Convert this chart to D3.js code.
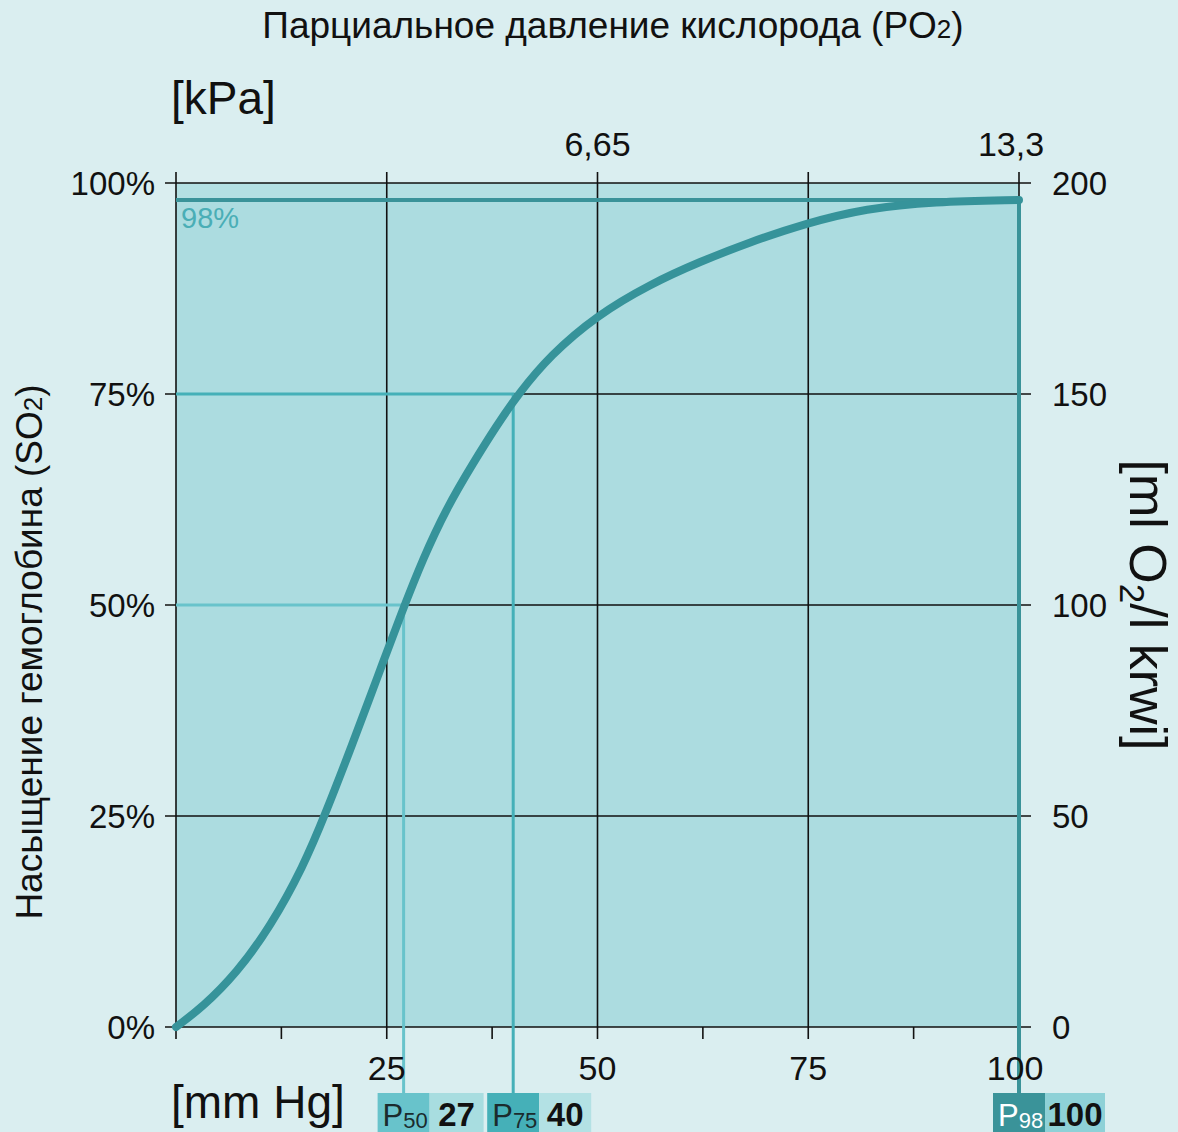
<!DOCTYPE html>
<html>
<head>
<meta charset="utf-8">
<script src="https://cdn.jsdelivr.net/npm/d3@7"></script>
<style>
body{margin:0;background:#daeef0;}
svg{display:block;font-family:"Liberation Sans",Arial,sans-serif;}
</style>
</head>
<body>
<div id="chart"></div>
<script>
// oxygen dissociation curve
var pressure=[0,3.2,7.2,11.2,15.1,17.7,21.0,23.8,26.8,29.3,32.1,35.3,38.0,40.6,44.4,49.9,56.2,62.2,68.1,74.6,81.9,89.8,100];
var saturation=[0,2.4,6.4,11.9,19.0,25.2,33.7,41.2,49.2,55.5,61.5,66.9,71.2,75.0,79.6,84.3,88.0,90.7,93.0,95.2,97.0,97.8,98.0];

var xTicks=[25,50,75,100];
var xMinorTicks=[12.5,37.5,62.5,87.5];
var yTicks=[0,25,50,75,100];
var yTickLabels=["0%","25%","50%","75%","100%"];
var rightTickLabels=["0","50","100","150","200"];
var kpaTicks=[50,100];
var kpaLabels=["6,65","13,3"];

// marker points P50, P75, P98
var markerNames=["50","75","98"];
var markerSat=[50,75,98];
var markerPressure=[27,40,100];
var markerColors=["#68c3cb","#45b0b8","#3a9399"];
var markerLight=["#a8dde0","#b3e1e4","#8ed1d7"];

var W=1178,H=1132;
var svg=d3.select("#chart").append("svg").attr("width",W).attr("height",H);

var x=d3.scaleLinear().domain([0,100]).range([176,1019]);
var y=d3.scaleLinear().domain([0,100]).range([1027,183]);

//plot background
svg.append("rect").attr("x",x(0)).attr("y",y(100)).attr("width",x(100)-x(0)).attr("height",y(0)-y(100)).attr("fill","#acdce0");
svg.append("rect").attr("x",x(0)).attr("y",y(100)).attr("width",x(100)-x(0)).attr("height",y(98)-y(100)).attr("fill","#b4e0e3");

var grid=svg.append("g").attr("stroke","#111").attr("stroke-width",1.6);
//vertical grid (sticks out a bit top and bottom)
grid.selectAll(".vg").data([0].concat(xTicks)).enter().append("line")
	.attr("x1",function(d){return x(d);}).attr("x2",function(d){return x(d);})
	.attr("y1",y(100)-11).attr("y2",y(0)+12);
grid.selectAll(".mg").data(xMinorTicks).enter().append("line")
	.attr("x1",function(d){return x(d);}).attr("x2",function(d){return x(d);})
	.attr("y1",y(0)).attr("y2",y(0)+12);
//horizontal grid
grid.selectAll(".hg").data(yTicks).enter().append("line")
	.attr("x1",x(0)-11).attr("x2",x(100)+12)
	.attr("y1",function(d){return y(d);}).attr("y2",function(d){return y(d);});

//reference lines for P50/P75/P98
var refs=svg.append("g").attr("fill","none");
markerSat.forEach(function(s,i){
	var px=x(markerPressure[i]);
	var w=i==2?4:3;
	refs.append("path")
		.attr("d","M"+x(0)+","+y(s)+"H"+px+"V1094")
		.attr("stroke",markerColors[i]).attr("stroke-width",w);
});

//curve (b-spline, smooths out reading errors)
var line=d3.line()
	.x(function(d){return x(d[0]);})
	.y(function(d){return y(d[1]);})
	.curve(d3.curveBasis);
svg.append("path").datum(d3.zip(pressure,saturation))
	.attr("d",line).attr("fill","none").attr("stroke","#36939a")
	.attr("stroke-width",8).attr("stroke-linecap","round");

svg.append("text").attr("x",x(0)+5).attr("y",y(98)+28).attr("font-size",29).attr("fill","#4aaeb6").text("98%");

//tick labels
svg.selectAll(".yl").data(yTicks).enter().append("text")
	.attr("x",155).attr("y",function(d){return y(d)+12;})
	.attr("text-anchor","end").attr("font-size",33).attr("fill","#111")
	.text(function(d,i){return yTickLabels[i];});
svg.selectAll(".rl").data(yTicks).enter().append("text")
	.attr("x",1052).attr("y",function(d){return y(d)+12;})
	.attr("font-size",33).attr("fill","#111")
	.text(function(d,i){return rightTickLabels[i];});
svg.selectAll(".xl").data(xTicks).enter().append("text")
	.attr("x",function(d){return x(d)-(d==100?4:0);}).attr("y",1080)
	.attr("text-anchor","middle").attr("font-size",34).attr("fill","#111")
	.text(function(d){return d;});
svg.selectAll(".kl").data(kpaTicks).enter().append("text")
	.attr("x",function(d){return x(d)+(d==100?-8:0);}).attr("y",156)
	.attr("text-anchor","middle").attr("font-size",34).attr("fill","#111")
	.text(function(d,i){return kpaLabels[i];});

//titles
var t=svg.append("text").attr("x",613).attr("y",38).attr("text-anchor","middle").attr("font-size",37).attr("fill","#111");
t.append("tspan").text("Парциальное давление кислорода (PO");
t.append("tspan").attr("font-size",26).text("2");
t.append("tspan").text(")");

svg.append("text").attr("x",171).attr("y",114).attr("font-size",46).attr("fill","#111").text("[kPa]");
svg.append("text").attr("x",171).attr("y",1118).attr("font-size",46).attr("fill","#111").text("[mm Hg]");

var lt=svg.append("text").attr("transform","translate(42,652) rotate(-90)").attr("text-anchor","middle").attr("font-size",37).attr("fill","#111");
lt.append("tspan").text("Насыщение гемоглобина (SO");
lt.append("tspan").attr("font-size",26).text("2");
lt.append("tspan").text(")");

var rt=svg.append("text").attr("transform","translate(1130,605) rotate(90)").attr("text-anchor","middle").attr("font-size",52).attr("fill","#111");
rt.append("tspan").text("[ml O");
rt.append("tspan").attr("font-size",35).attr("dy",10).text("2");
rt.append("tspan").attr("dy",-10).text("/l krwi]");

//marker boxes under the axis
var numW=[54,52,60];
markerNames.forEach(function(n,i){
	var cx=x(markerPressure[i]);
	var g=svg.append("g");
	g.append("rect").attr("x",cx-26).attr("y",1093).attr("width",52).attr("height",40).attr("fill",markerColors[i]);
	g.append("rect").attr("x",cx+26).attr("y",1093).attr("width",numW[i]).attr("height",40).attr("fill",markerLight[i]);
	var pt=g.append("text").attr("x",cx-21).attr("y",1126).attr("font-size",31).attr("fill",i==2?"#fff":"#1b2b2d");
	pt.append("tspan").text("P");
	pt.append("tspan").attr("font-size",22).attr("dy",2).text(n);
	g.append("text").attr("x",cx+26+numW[i]/2).attr("y",1126).attr("text-anchor","middle")
		.attr("font-size",33).attr("font-weight","bold").attr("fill","#111").text(markerPressure[i]);
});
</script>
</body>
</html>
